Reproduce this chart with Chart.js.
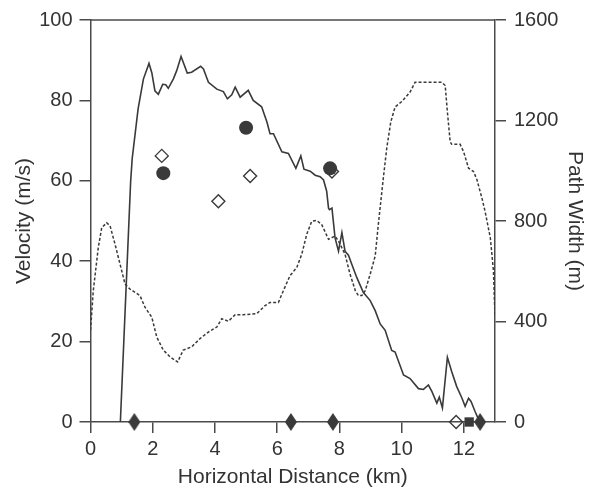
<!DOCTYPE html>
<html>
<head>
<meta charset="utf-8">
<script src="https://cdn.jsdelivr.net/npm/chart.js@4.4.1/dist/chart.umd.min.js"></script>
<style>
  html, body { margin:0; padding:0; background:#fff; }
  #wrap { width:592px; height:490px; }
</style>
</head>
<body>
<div id="wrap"><canvas id="chart"></canvas></div>
<script>
// velocity trace (km, m/s)
const velX = [0.96,1.29,1.34,1.53,1.70,1.88,1.97,2.07,2.18,2.32,2.42,2.50,2.66,2.77,2.91,3.11,3.25,3.54,3.63,3.79,4.06,4.27,4.40,4.54,4.65,4.81,5.07,5.23,5.50,5.67,5.77,5.88,6.15,6.36,6.60,6.76,6.86,7.06,7.22,7.38,7.49,7.59,7.65,7.68,7.76,7.86,7.97,8.08,8.18,8.29,8.40,8.56,8.77,8.99,9.15,9.31,9.47,9.68,9.79,10.06,10.27,10.54,10.70,10.86,10.97,11.13,11.21,11.31,11.47,11.61,11.77,11.94,12.04,12.15,12.23,12.36,12.50];
const velY = [0,59.8,65.5,77.9,85.3,89.2,86.9,82.4,81.5,84.0,83.9,83.0,85.3,87.4,90.9,86.8,87.0,88.5,87.8,84.5,82.8,82.2,80.4,81.4,83.3,80.8,82.5,80.0,78.4,74.6,71.7,71.7,67.2,66.8,63.1,66.2,62.9,62.4,61.4,61.0,60.2,57.4,53.2,52.8,53.2,45.8,42.5,47.1,42.5,41.5,39.2,35.9,32.2,30.2,27.7,24.4,22.8,17.8,17.4,11.7,10.8,8.3,8.1,9.2,7.6,4.7,6.2,3.5,16.1,12.5,8.8,5.9,3.9,5.9,5.1,2.6,0.1];

// path width trace (km, m)
const widthX = [0.0,0.09,0.25,0.36,0.52,0.63,0.79,0.95,1.11,1.27,1.59,1.75,1.97,2.13,2.34,2.56,2.80,2.98,3.25,3.52,3.79,4.06,4.22,4.43,4.65,4.91,5.34,5.61,5.77,6.04,6.20,6.41,6.63,6.79,6.95,7.11,7.27,7.43,7.65,7.86,7.97,8.18,8.34,8.51,8.61,8.72,8.83,8.99,9.15,9.25,9.33,9.41,9.52,9.65,9.79,10.01,10.27,10.43,10.81,11.29,11.40,11.47,11.56,11.61,11.88,11.99,12.15,12.31,12.42,12.58,12.68,12.85,12.95,13.0];
const widthY = [365,523,694,773,793,780,707,628,549,529,503,457,417,338,286,259,239,286,299,332,358,378,411,401,427,427,431,463,476,476,523,582,615,668,747,799,802,786,727,740,720,668,589,523,503,503,523,589,661,786,878,970,1089,1194,1254,1276,1313,1352,1352,1352,1339,1234,1115,1105,1105,1076,1010,997,964,891,839,733,602,420];

// point observations
const circleX = [2.34, 5.00, 7.70];
const circleY = [61.9, 73.2, 63.1];
const openDiaX = [2.29, 4.11, 5.13, 7.76, 11.75];
const openDiaY = [66.2, 54.9, 61.2, 62.3, 0];
const fillDiaX = [1.41, 6.44, 7.79, 12.52];
const fillDiaY = [0, 0, 0, 0];
const squareX = [12.17];
const squareY = [0];

const xTicks = [0, 2, 4, 6, 8, 10, 12];
const yTicks = [0, 20, 40, 60, 80, 100];
const y2Ticks = [0, 400, 800, 1200, 1600];

const ink = '#3a3a3a', axisCol = '#4a4a4a', textCol = '#333';
Chart.defaults.font.family = '"Liberation Sans", Arial, Helvetica, sans-serif';

function pts(xs, ys){ return xs.map((x, i) => ({ x, y: ys[i] })); }

// tall diamond marker drawn on a small canvas
function tallDiamond(w, h, fill){
  const c = document.createElement('canvas');
  c.width = w; c.height = h;
  const g = c.getContext('2d');
  g.beginPath();
  g.moveTo(w/2, 0); g.lineTo(w, h/2); g.lineTo(w/2, h); g.lineTo(0, h/2); g.closePath();
  g.fillStyle = fill; g.fill();
  return c;
}

const topLine = {
  id: 'topLine',
  beforeDatasetsDraw(chart){
    const { ctx, chartArea: a } = chart;
    ctx.save();
    ctx.strokeStyle = axisCol; ctx.lineWidth = 1.5;
    ctx.beginPath(); ctx.moveTo(a.left, a.top); ctx.lineTo(a.right, a.top); ctx.stroke();
    ctx.restore();
  }
};

function setTicks(list){ return s => { s.ticks = list.map(v => ({ value: v })); }; }
const plain = v => String(v);
const tickFont = { size: 20 };
const gridOpts = { display: true, drawOnChartArea: false, drawTicks: true, tickLength: 11, color: axisCol, lineWidth: 1.5 };
const borderOpts = { display: true, color: axisCol, width: 1.5 };

new Chart(document.getElementById('chart'), {
  type: 'scatter',
  data: {
    datasets: [
      { label: 'open', data: pts(openDiaX, openDiaY), pointStyle: 'rectRot', pointRadius: 6.5,
        backgroundColor: 'rgba(255,255,255,0)', borderColor: ink, pointBorderWidth: 1.4, clip: false },
      { label: 'circles', data: pts(circleX, circleY), pointStyle: 'circle', pointRadius: 7,
        backgroundColor: ink, borderColor: ink, pointBorderWidth: 0, clip: false },
      { label: 'filled', data: pts(fillDiaX, fillDiaY), pointStyle: tallDiamond(12, 18, ink), clip: false },
      { label: 'square', data: pts(squareX, squareY), pointStyle: 'rect', pointRadius: 6.6,
        backgroundColor: ink, borderColor: ink, pointBorderWidth: 0, clip: false },
      { label: 'Velocity', data: pts(velX, velY), showLine: true, pointRadius: 0,
        borderColor: ink, borderWidth: 1.6, tension: 0, yAxisID: 'y' },
      { label: 'Path Width', data: pts(widthX, widthY), showLine: true, pointRadius: 0,
        borderColor: ink, borderWidth: 1.5, borderDash: [3, 2], tension: 0, yAxisID: 'y2' }
    ]
  },
  options: {
    responsive: true, maintainAspectRatio: false, animation: false,
    layout: { padding: { top: 17, left: 0, right: 0, bottom: 0 } },
    plugins: { legend: { display: false }, tooltip: { enabled: false } },
    scales: {
      x: {
        type: 'linear', position: 'bottom', min: 0, max: 13,
        afterBuildTicks: setTicks(xTicks),
        afterFit: s => { s.height = 68; },
        grid: gridOpts, border: borderOpts,
        ticks: { color: textCol, font: tickFont, padding: 4, maxRotation: 0, callback: plain },
        title: { display: true, text: 'Horizontal Distance (km)', color: textCol, font: { size: 21 }, padding: { top: 2, bottom: 0 } }
      },
      y: {
        type: 'linear', position: 'left', min: 0, max: 100,
        afterBuildTicks: setTicks(yTicks),
        afterFit: s => { s.width = 90.5; },
        grid: gridOpts, border: borderOpts,
        ticks: { color: textCol, font: tickFont, padding: 7, callback: plain },
        title: { display: true, text: 'Velocity (m/s)', color: textCol, font: { size: 21 }, padding: { top: 12, bottom: 0 } }
      },
      y2: {
        type: 'linear', position: 'right', min: 0, max: 1600,
        afterBuildTicks: setTicks(y2Ticks),
        afterFit: s => { s.width = 97; },
        grid: gridOpts, border: borderOpts,
        ticks: { color: textCol, font: tickFont, padding: 8, callback: plain },
        title: { display: true, text: 'Path Width (m)', color: textCol, font: { size: 21 }, padding: { top: 5, bottom: 0 } }
      }
    }
  },
  plugins: [topLine]
});
</script>
</body>
</html>
